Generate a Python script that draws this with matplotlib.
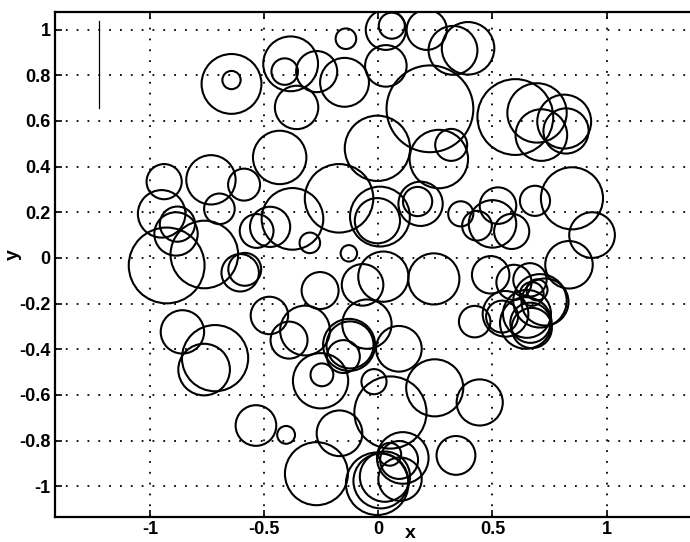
import matplotlib
matplotlib.use("Agg")
import matplotlib.pyplot as plt
from matplotlib.patches import Circle

# circle centres and radii
cx = [-0.643, -0.643, -0.384, -0.410, -0.270, -0.148, -0.358, -0.432, -0.938, -0.733,
      -0.588, -0.949, -0.696, -0.880, -0.886, -0.927, -0.762, -0.605, -0.585, -0.376,
      -0.533, -0.474, -0.300, -0.129,
      -0.142, 0.033, 0.059, 0.212, 0.327, 0.393, 0.033, 0.226, -0.004, 0.265,
      0.319, -0.172, 0.007, -0.004, 0.185, 0.172, 0.361, 0.432, 0.500, 0.524,
      0.584, 0.686, 0.848, 0.936,
      0.600, 0.695, 0.714, 0.814, 0.822,
      -0.858, -0.715, -0.763, -0.477, -0.391, -0.321, -0.536, -0.404, -0.271, -0.255,
      -0.247, -0.253, -0.170, -0.128, -0.124, -0.153,
      -0.069, 0.022, 0.243, 0.492, -0.050, 0.090, -0.019, 0.053, 0.247, 0.444,
      0.340, -0.005, 0.011, 0.029, 0.095, 0.107, 0.091, 0.050,
      0.422, 0.594, 0.664, 0.835, 0.557, 0.646, 0.666, 0.708, 0.730, 0.672,
      0.695, 0.542, 0.651, 0.672]
cy = [0.779, 0.762, 0.850, 0.816, 0.816, 0.769, 0.659, 0.440, 0.334, 0.342,
      0.321, 0.193, 0.215, 0.148, 0.105, -0.033, 0.015, -0.065, -0.050, 0.171,
      0.118, 0.136, 0.066, 0.020,
      0.960, 0.999, 1.017, 0.999, 0.909, 0.918, 0.841, 0.653, 0.480, 0.433,
      0.495, 0.261, 0.181, 0.163, 0.237, 0.247, 0.193, 0.141, 0.149, 0.229,
      0.116, 0.250, 0.261, 0.100,
      0.617, 0.635, 0.538, 0.597, 0.556,
      -0.324, -0.439, -0.489, -0.252, -0.360, -0.318, -0.734, -0.775, -0.945, -0.143,
      -0.512, -0.538, -0.768, -0.381, -0.381, -0.432,
      -0.118, -0.082, -0.092, -0.074, -0.290, -0.398, -0.542, -0.677, -0.569, -0.633,
      -0.865, -0.989, -0.977, -0.958, -0.969, -0.876, -0.885, -0.860,
      -0.279, -0.107, -0.096, -0.030, -0.245, -0.285, -0.284, -0.188, -0.193, -0.158,
      -0.140, -0.257, -0.245, -0.307]
rad = [0.040, 0.131, 0.120, 0.058, 0.090, 0.107, 0.095, 0.117, 0.077, 0.108,
       0.070, 0.104, 0.067, 0.077, 0.095, 0.166, 0.148, 0.082, 0.072, 0.135,
       0.074, 0.088, 0.045, 0.036,
       0.045, 0.088, 0.057, 0.088, 0.107, 0.115, 0.091, 0.190, 0.143, 0.128,
       0.070, 0.150, 0.131, 0.099, 0.097, 0.064, 0.055, 0.065, 0.104, 0.080,
       0.077, 0.066, 0.136, 0.100,
       0.166, 0.130, 0.113, 0.118, 0.099,
       0.095, 0.145, 0.113, 0.082, 0.081, 0.109, 0.089, 0.039, 0.138, 0.081,
       0.050, 0.121, 0.100, 0.114, 0.103, 0.072,
       0.091, 0.110, 0.112, 0.082, 0.108, 0.100, 0.055, 0.158, 0.125, 0.101,
       0.085, 0.137, 0.120, 0.110, 0.095, 0.113, 0.083, 0.050,
       0.069, 0.077, 0.073, 0.104, 0.100, 0.113, 0.088, 0.117, 0.103, 0.052,
       0.046, 0.070, 0.105, 0.088]

xticks = [-1, -0.5, 0, 0.5, 1]
yticks = [-1, -0.8, -0.6, -0.4, -0.2, 0, 0.2, 0.4, 0.6, 0.8, 1]

plt.rcParams['font.family'] = ['Liberation Sans', 'DejaVu Sans']

fig = plt.figure(figsize=(6.9, 5.42), dpi=100)
ax = fig.add_axes([55 / 690, 24.7 / 542, 643 / 690, 505.3 / 542])

for x, y, r in zip(cx, cy, rad):
    ax.add_patch(Circle((x, y), r, fill=False, edgecolor='black', linewidth=1.5))

# stray scan mark in the upper left
ax.plot([-1.223, -1.223], [0.657, 1.039], color='black', linewidth=0.9)

ax.set_xlim(-1.416, 1.4)
ax.set_ylim(-1.136, 1.077)
ax.set_xticks(xticks)
ax.set_yticks(yticks)
ax.set_xticklabels(['-1', '-0.5', '0', '0.5', '1'])
ax.set_yticklabels(['-1', '-0.8', '-0.6', '-0.4', '-0.2', '0', '0.2', '0.4', '0.6', '0.8', '1'])
ax.grid(True, color='black', linestyle=(0, (1, 5)), linewidth=1.3)
ax.tick_params(direction='in', top=True, right=True, length=5, width=1.2,
               labelsize=13, pad=3)
for lab in ax.get_xticklabels() + ax.get_yticklabels():
    lab.set_fontweight('bold')
for s in ax.spines.values():
    s.set_linewidth(1.6)

ax.set_xlabel('x', fontsize=14, fontweight='bold')
ax.xaxis.set_label_coords(0.552, -0.016)
ax.set_ylabel('y', fontsize=14, fontweight='bold')
ax.yaxis.set_label_coords(-0.052, 0.52)

fig.savefig('out.png', dpi=100)
